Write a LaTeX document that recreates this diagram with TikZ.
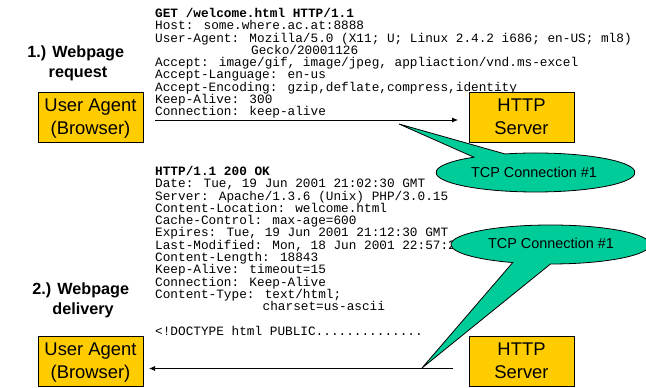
\documentclass[tikz,border=0pt]{standalone}
\usepackage{fontspec}
\setmainfont{Liberation Sans}
\newfontfamily\monof{Liberation Mono}
\usetikzlibrary{arrows.meta,calc}
\definecolor{boxgold}{HTML}{FFCC00}
\definecolor{calloutgreen}{HTML}{00CC99}
\newcommand{\boxstrut}{\rule[-4pt]{0pt}{20.2pt}}
\newcommand{\boxdepth}{\rule[-4pt]{0pt}{1pt}}
\newcommand{\trailgap}{\rule{4.5pt}{0pt}}
\tikzset{
  x=1pt,y=1pt,
  agentbox/.style={draw=black,line width=0.8pt,fill=boxgold,minimum width=105pt,minimum height=50pt,inner sep=0pt,align=center,font=\fontsize{18.4}{23}\selectfont},
  steplabel/.style={inner sep=0pt,align=center,font=\fontsize{16.2}{20}\selectfont\bfseries},
  headertext/.style={anchor=north west,inner sep=0pt,align=left,font=\monof\fontsize{12.74}{12.3}\selectfont},
  calloutshape/.style={draw=black,line width=0.8pt,fill=calloutgreen,line join=miter},
  callouttext/.style={inner sep=0pt,font=\fontsize{14.4}{17}\selectfont},
  msgarrow/.style={draw=black,line width=0.75pt,-{Latex[length=6pt,width=5pt]}}
}
\begin{document}
\begin{tikzpicture}
\useasboundingbox (0,0) rectangle (646,388);
\fill[white] (0,0) rectangle (646,388);
% header text
\node[headertext] (req) at (155,380) {\textbf{GET /welcome.html HTTP/1.1}\\
Host: some.where.ac.at:8888\\
User-Agent: Mozilla/5.0 (X11; U; Linux 2.4.2 i686; en-US; ml8)\\
\hspace*{96pt}Gecko/20001126\\
Accept: image/gif, image/jpeg, appliaction/vnd.ms-excel\\
Accept-Language: en-us\\
Accept-Encoding: gzip,deflate,compress,identity\\
Keep-Alive: 300\\
Connection: keep-alive};
\node[headertext] (resp) at (155,222) {\textbf{HTTP/1.1 200 OK}\\
Date: Tue, 19 Jun 2001 21:02:30 GMT\\
Server: Apache/1.3.6 (Unix) PHP/3.0.15\\
Content-Location: welcome.html\\
Cache-Control: max-age=600\\
Expires: Tue, 19 Jun 2001 21:12:30 GMT\\
Last-Modified: Mon, 18 Jun 2001 22:57:2\\
Content-Length: 18843\\
Keep-Alive: timeout=15\\
Connection: Keep-Alive\\
Content-Type: text/html;\\
\hspace*{107.5pt}charset=us-ascii\\
\mbox{}\\
<!DOCTYPE html PUBLIC..............};
% labels
\node[steplabel] (lab1) at (78,324.5) {1.) Webpage\trailgap\\request};
\node[steplabel] (lab2) at (83,87.5) {2.) Webpage\trailgap\\delivery};
% boxes
\node[agentbox] (ua1) at (90.5,271) {\boxstrut User Agent\\(Browser)\boxdepth};
\node[agentbox] (srv1) at (521.5,271) {\boxstrut HTTP\\Server\boxdepth};
\node[agentbox] (ua2) at (90.5,27) {\boxstrut User Agent\\(Browser)\boxdepth};
\node[agentbox] (srv2) at (521.5,27) {\boxstrut HTTP\\Server\boxdepth};
% arrows
\coordinate (a1s) at (155,268);
\coordinate (a1e) at (458,268);
\coordinate (a2s) at (453,19.5);
\coordinate (a2e) at (149,19.5);
\draw[msgarrow] (a1s) -- (a1e);
\draw[msgarrow] (a2s) -- (a2e);
% callouts
\coordinate (tip1) at (399,264);
\coordinate (c1) at (535.5,215.5);
\path[calloutshape] (tip1) -- ($(c1)+(128.3:99.5 and 19.5)$) arc[start angle=128.3,end angle=467.9,x radius=99.5,y radius=19.5] -- cycle;
\node[callouttext] (t1) at (534,216) {TCP Connection \#1};
\coordinate (tip2) at (422,20);
\coordinate (c2) at (550.5,143.5);
\path[calloutshape] (tip2) -- ($(c2)+(270:99.5 and 19.5)$) arc[start angle=270,end angle=607.7,x radius=99.5,y radius=19.5] -- cycle;
\node[callouttext] (t2) at (551,144.5) {TCP Connection \#1};
\end{tikzpicture}
\end{document}
